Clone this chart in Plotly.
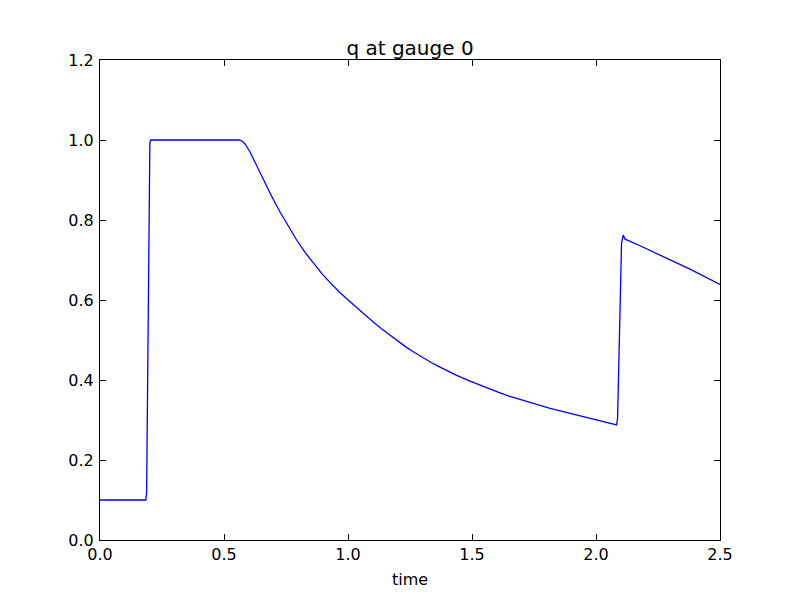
import plotly.graph_objects as go

time = [0.0, 0.05, 0.10, 0.15, 0.181, 0.185, 0.188, 0.192, 0.197, 0.201, 0.204, 0.25, 0.30, 0.40, 0.50,
        0.560, 0.571, 0.585, 0.605, 0.630, 0.659, 0.690, 0.726, 0.760, 0.793, 0.827, 0.860, 0.893,
        0.927, 0.968, 1.035, 1.068, 1.102, 1.135, 1.169, 1.203, 1.237, 1.270, 1.304, 1.337,
        1.371, 1.404, 1.438, 1.492, 1.532, 1.573, 1.613, 1.653, 1.694, 1.734, 1.775, 1.815,
        1.855, 1.895, 1.936, 1.976, 2.016, 2.050, 2.083,
        2.087, 2.093, 2.098, 2.103, 2.110, 2.117, 2.180, 2.245, 2.310, 2.379, 2.440, 2.5]
q = [0.1, 0.1, 0.1, 0.1, 0.1, 0.1, 0.12, 0.45, 0.85, 0.99, 1.0, 1.0, 1.0, 1.0, 1.0,
     1.0, 0.998, 0.99, 0.970, 0.938, 0.901, 0.862, 0.820, 0.783, 0.750, 0.719, 0.692, 0.667,
     0.644, 0.618, 0.581, 0.5625, 0.545, 0.528, 0.512, 0.496, 0.481, 0.468, 0.455, 0.443,
     0.432, 0.4215, 0.4115, 0.397, 0.387, 0.377, 0.368, 0.359, 0.351, 0.343, 0.336, 0.329,
     0.323, 0.317, 0.311, 0.305, 0.299, 0.293, 0.2875,
     0.305, 0.45, 0.62, 0.742, 0.7625, 0.752, 0.735, 0.717, 0.697, 0.677, 0.658, 0.639]

x_ticks = [0.0, 0.5, 1.0, 1.5, 2.0, 2.5]
y_ticks = [0.0, 0.2, 0.4, 0.6, 0.8, 1.0, 1.2]

fig = go.Figure()
fig.add_trace(go.Scatter(x=time, y=q, mode="lines",
                         line=dict(color="#0000ff", width=1.3), showlegend=False))

font = "DejaVu Sans, Liberation Sans, sans-serif"
axis_common = dict(showgrid=False, zeroline=False, showline=True, linecolor="black",
                   linewidth=1, mirror="ticks", ticks="inside", ticklen=6,
                   tickcolor="black", tickwidth=1, tickformat=".1f", automargin=False,
                   tickfont=dict(family=font, size=16, color="black"))

# page body has an 8px margin; figure is sized/margined so the plot area lands at 100..720 x 60..540
fig.update_layout(
    width=784, height=584,
    margin=dict(l=92, r=72, t=52, b=52),
    paper_bgcolor="white", plot_bgcolor="white",
    title=dict(text="q at gauge 0", xref="paper", x=0.5, xanchor="center",
               y=0.9315, yanchor="middle",
               font=dict(family=font, size=20, color="black")),
    xaxis=dict(range=[0, 2.5], tickvals=x_ticks, ticklabelstandoff=0,
               title=dict(text="time", font=dict(family=font, size=16, color="black"), standoff=10),
               **axis_common),
    yaxis=dict(range=[0, 1.2], tickvals=y_ticks, ticklabelstandoff=2, **axis_common),
)

fig.write_html("out.html")
